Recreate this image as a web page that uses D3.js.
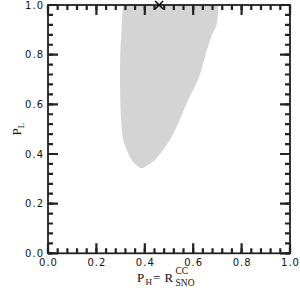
<!DOCTYPE html>
<html><head><meta charset="utf-8">
<script src="https://cdn.jsdelivr.net/npm/d3@7"></script>
<style>body{margin:0;background:#fff}svg{display:block}</style>
</head><body>
<svg id="c" width="300" height="300"></svg>
<script>
const majorTicks = [0, 0.2, 0.4, 0.6, 0.8, 1.0];
const tickLabels = ["0.0", "0.2", "0.4", "0.6", "0.8", "1.0"];
const minorTicks = d3.range(0, 1.0001, 0.04);
// allowed region boundary (P_H, P_L)
const leftEdgePH = [0.310, 0.304, 0.298, 0.298, 0.300, 0.302, 0.311, 0.325, 0.346, 0.364, 0.387];
const leftEdgePL = [1.000, 0.901, 0.780, 0.659, 0.578, 0.538, 0.457, 0.416, 0.376, 0.356, 0.343];
const rightEdgePH = [0.413, 0.442, 0.475, 0.504, 0.545, 0.579, 0.620, 0.657, 0.678, 0.697, 0.704];
const rightEdgePL = [0.356, 0.376, 0.416, 0.457, 0.538, 0.618, 0.699, 0.820, 0.880, 0.921, 1.000];
const bestFit = {ph: 0.459, pl: 1.0};

const svg = d3.select("#c");
const L = 48, R = 290, T = 5, B = 253.3;
const x = d3.scaleLinear().domain([0, 1]).range([L, R]);
const y = d3.scaleLinear().domain([0, 1]).range([B, T]);
const axisColor = "#222222";

const pts = leftEdgePH.map((v, i) => [v, leftEdgePL[i]])
  .concat(rightEdgePH.map((v, i) => [v, rightEdgePL[i]]));
const shapeLine = d3.line().x(d => x(d[0])).y(d => y(d[1])).curve(d3.curveCatmullRom.alpha(0.5));
svg.append("path").attr("d", shapeLine(pts) + "Z").attr("fill", "#d4d4d4").attr("stroke", "none");

// tick labels through axes
const gb = svg.append("g").attr("transform", `translate(0,${B})`)
  .call(d3.axisBottom(x).tickValues(majorTicks).tickSize(0).tickPadding(6)
    .tickFormat((d, i) => tickLabels[i]));
const gl = svg.append("g").attr("transform", `translate(${L},0)`)
  .call(d3.axisLeft(y).tickValues(majorTicks).tickSize(0).tickPadding(4)
    .tickFormat((d, i) => tickLabels[i]));
[gb, gl].forEach(g => {
  g.select(".domain").remove();
  g.selectAll("text").attr("font-family", "DejaVu Sans").attr("font-size", 10)
    .attr("letter-spacing", "1px").attr("fill", "#111");
});

// frame
svg.append("rect").attr("x", L).attr("y", T).attr("width", R - L).attr("height", B - T)
  .attr("fill", "none").attr("stroke", axisColor).attr("stroke-width", 1.8);

// axis titles
const serif = "Liberation Serif";
const yl = svg.append("text").attr("transform", `translate(21,${(T + B) / 2}) rotate(-90)`)
  .attr("text-anchor", "middle").attr("font-family", serif).attr("font-size", 13).attr("fill", "#111");
yl.append("tspan").text("P");
yl.append("tspan").attr("font-size", 9).attr("dy", 3).text("L");

const tx = svg.append("g").attr("font-family", serif).attr("fill", "#111");
tx.append("text").attr("x", 137).attr("y", 282).attr("font-size", 13).text("P");
tx.append("text").attr("x", 145.5).attr("y", 285).attr("font-size", 9).text("H");
tx.append("text").attr("x", 153).attr("y", 282).attr("font-size", 13).text("=");
tx.append("text").attr("x", 164.5).attr("y", 282).attr("font-size", 13).text("R");
tx.append("text").attr("x", 175.5).attr("y", 274).attr("font-size", 9.5).text("CC");
tx.append("text").attr("x", 175.5).attr("y", 286).attr("font-size", 9.5).text("SNO");

// ticks on all four sides, pointing inward (drawn last)
const tk = svg.append("g").attr("stroke", axisColor).attr("stroke-width", 2.2).attr("fill", "none");
function drawTicks(vals, len) {
  vals.forEach(v => {
    const px = x(v), py = y(v);
    tk.append("path").attr("d", `M${px},${B}V${B - len}M${px},${T}V${T + len}M${L},${py}H${L + len}M${R},${py}H${R - len}`);
  });
}
drawTicks(minorTicks, 5);
drawTicks(majorTicks, 10);

// best fit marker
const s = 4, cx = x(bestFit.ph), cy = y(bestFit.pl);
svg.append("path")
  .attr("d", `M${cx-s},${cy-s}L${cx+s},${cy+s}M${cx-s},${cy+s}L${cx+s},${cy-s}`)
  .attr("stroke", "#000").attr("stroke-width", 1.4).attr("fill", "none");
</script>
</body></html>
